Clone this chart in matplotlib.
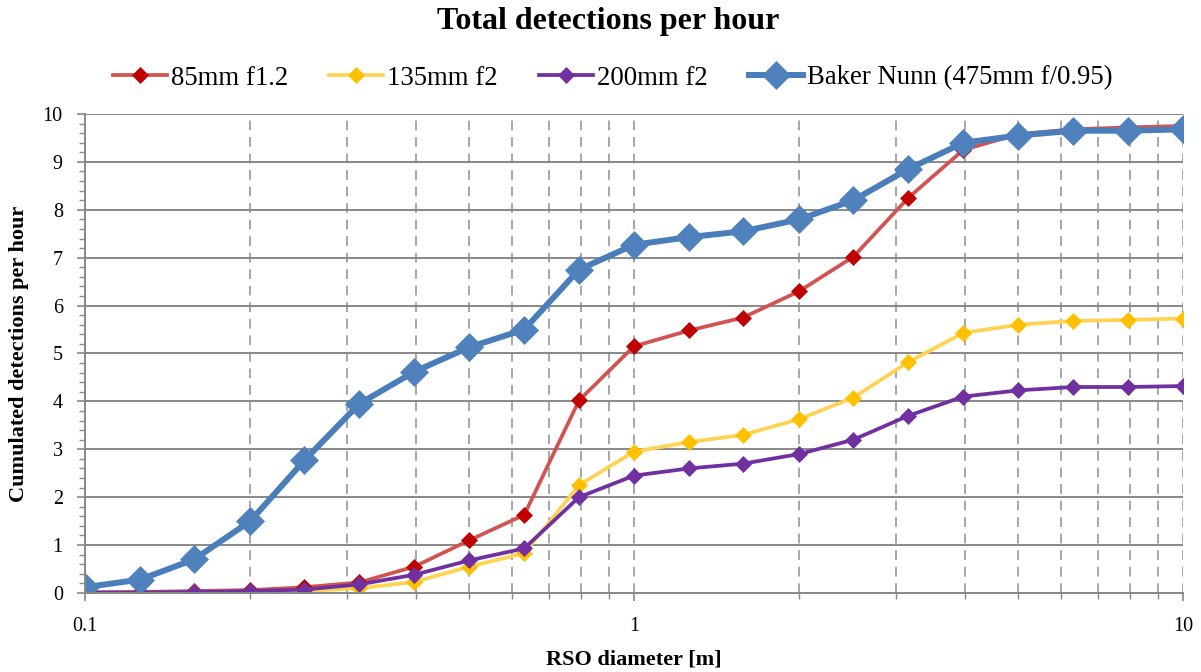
import matplotlib
matplotlib.use("Agg")
import matplotlib.pyplot as plt
import numpy as np
from matplotlib.ticker import LogLocator, FixedLocator, NullFormatter, MultipleLocator

plt.rcParams['font.family'] = ['Liberation Serif', 'DejaVu Serif']

# RSO diameters, 10 steps per decade
diameter = [0.1, 0.126, 0.158, 0.2, 0.251, 0.316, 0.398, 0.501, 0.631, 0.794,
            1.0, 1.26, 1.58, 2.0, 2.51, 3.16, 3.98, 5.01, 6.31, 7.94, 10.0]

det_85 = [0.01, 0.02, 0.04, 0.06, 0.12, 0.22, 0.55, 1.10, 1.63, 4.02, 5.15,
          5.48, 5.75, 6.30, 7.02, 8.25, 9.25, 9.58, 9.68, 9.72, 9.75]
det_135 = [0.00, 0.00, 0.01, 0.02, 0.04, 0.10, 0.23, 0.55, 0.83, 2.25, 2.95,
           3.15, 3.30, 3.63, 4.08, 4.82, 5.43, 5.60, 5.68, 5.70, 5.73]
det_200 = [0.01, 0.01, 0.02, 0.04, 0.07, 0.18, 0.38, 0.68, 0.93, 2.00, 2.45,
           2.60, 2.70, 2.90, 3.20, 3.70, 4.10, 4.23, 4.30, 4.30, 4.32]
det_bn = [0.12, 0.28, 0.70, 1.50, 2.77, 3.95, 4.62, 5.13, 5.50, 6.75, 7.27,
          7.43, 7.55, 7.80, 8.20, 8.85, 9.40, 9.55, 9.65, 9.65, 9.68]

series = [
    ("85mm f1.2", det_85, '#D25452', '#C00000', 2.7, 8.5),
    ("135mm f2", det_135, '#FFD352', '#FFC000', 2.7, 8.5),
    ("200mm f2", det_200, '#7030A0', '#7030A0', 2.7, 8.5),
    ("Baker Nunn (475mm f/0.95)", det_bn, '#4A7EBB', '#4F81BD', 4.3, 14),
]

fig = plt.figure(figsize=(12.01, 6.72), dpi=100)
ax = fig.add_axes([0.0708, 0.1176, 0.9142, 0.7128])

for label, vals, lc, mc, lw, ms in series:
    ax.plot(diameter, vals, color=lc, linewidth=lw, marker='D', markersize=ms,
            markerfacecolor=mc, markeredgecolor=mc, markeredgewidth=0.5,
            label=label, solid_joinstyle='round')

ax.set_xscale('log')
ax.set_xlim(0.1, 10)
ax.set_ylim(0, 10)

ax.xaxis.set_major_locator(FixedLocator([0.1, 1, 10]))
ax.xaxis.set_minor_locator(LogLocator(base=10, subs=np.arange(2, 10)))
ax.xaxis.set_minor_formatter(NullFormatter())
ax.set_xticklabels(['0.1', '1', '10'])
ax.yaxis.set_major_locator(MultipleLocator(1))
ax.yaxis.set_minor_locator(MultipleLocator(0.2))

ax.grid(which='both', axis='x', color='#A6A6A6', linestyle=(0, (5, 3.5)), linewidth=1.4)
ax.grid(which='major', axis='y', color='#888888', linestyle='-', linewidth=1.4)
ax.set_axisbelow(True)

for side in ['top', 'right']:
    ax.spines[side].set_visible(False)
for side in ['left', 'bottom']:
    ax.spines[side].set_color('#888888')
    ax.spines[side].set_linewidth(1.4)

ax.tick_params(which='major', length=6, color='#888888', width=1.2, labelsize=14.5)
ax.tick_params(which='minor', length=4, color='#888888', width=1.0)
ax.tick_params(axis='y', which='major', pad=10)
ax.tick_params(axis='x', which='major', pad=11)

ax.set_xlabel("RSO diameter [m]", fontsize=16, fontweight='bold', labelpad=10)
ax.set_ylabel("Cumulated detections per hour", fontsize=16, fontweight='bold', labelpad=10)

fig.text(608 / 1201, 1 - 29 / 672, "Total detections per hour", fontsize=23,
         fontweight='bold', ha='center', va='baseline')
fig.legend(loc='center left', bbox_to_anchor=(113 / 1201, 1 - 78 / 672), ncol=4,
           frameon=False, fontsize=19.3, handlelength=2.0, columnspacing=1.55,
           handletextpad=0.15, borderpad=0, borderaxespad=0)

fig.savefig("out.png", dpi=100)
